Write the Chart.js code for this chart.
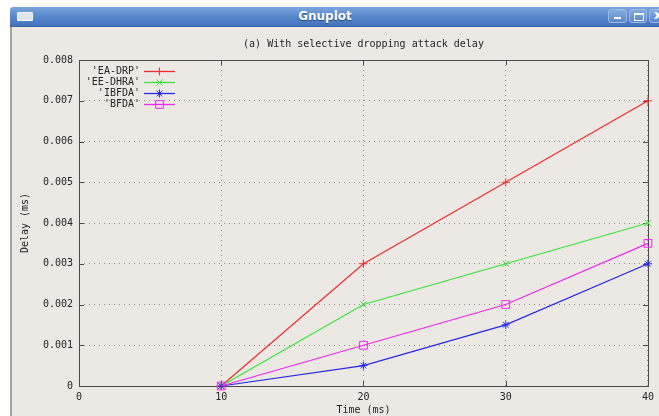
<!DOCTYPE html>
<html>
<head>
<meta charset="utf-8">
<script src="https://cdn.jsdelivr.net/npm/chart.js@4/dist/chart.umd.min.js"></script>
<style>
  html, body { margin: 0; padding: 0; background: #fff; }
  .page { position: relative; width: 659px; height: 416px; overflow: hidden; }
  .win { position: absolute; left: 10px; top: 7px; width: 680px; height: 420px; background: #ECE9E4; border-left: 2px solid #a4a4a0; box-sizing: border-box; border-radius: 4px 0 0 0; }
  .titlebar { position: absolute; left: 10px; top: 7px; width: 680px; height: 19px; border-radius: 4px 0 0 0;
    background: linear-gradient(#7ba5dd, #5585cb 55%, #4574bd); border-bottom: 1px solid #3a64a8; }
  .titlebar .name { position: absolute; left: 0; width: 630px; top: 2px; text-align: center; color: #fff;
    font: bold 12px "DejaVu Sans", sans-serif; text-shadow: 0 1px 1px #27477a; }
  .icon { position: absolute; left: 7px; top: 5px; width: 14px; height: 7px; background: #dde5ef; border: 1px solid #f4f7fb; border-radius: 1px; }
  .btn { position: absolute; top: 2px; height: 14px; border: 1px solid #9ebbe6; border-radius: 3px;
    background: linear-gradient(#86acdf, #5a88cc); box-sizing: border-box; color: #fff; }
  .btn.min { left: 598px; width: 19px; }
  .btn.max { left: 619px; width: 18px; }
  .btn.cls { left: 639px; width: 18px; }
  .btn.min::after { content: ""; position: absolute; left: 5px; bottom: 3px; width: 7px; height: 2px; background: #fff; }
  .btn.max::after { content: ""; position: absolute; left: 4px; top: 3px; width: 8px; height: 5px; border: 1px solid #fff; border-top-width: 2px; }
  .btn.cls::after { content: "x"; position: absolute; left: 4px; top: -2px; font: bold 12px "DejaVu Sans", sans-serif; }
  canvas { position: absolute; left: 0; top: 0; }
</style>
</head>
<body>
<div class="page">
  <div class="win"></div>
  <div class="titlebar">
    <div class="icon"></div>
    <div class="name">Gnuplot</div>
    <div class="btn min"></div>
    <div class="btn max"></div>
    <div class="btn cls"></div>
  </div>
  <canvas id="chart" width="659" height="416" style="width:659px;height:416px"></canvas>
</div>
<script>
// values
const timeMs = [10, 20, 30, 40];
const eaDrp = [0, 0.003, 0.005, 0.007];
const eeDhra = [0, 0.002, 0.003, 0.004];
const ibfda = [0, 0.0005, 0.0015, 0.003];
const bfda = [0, 0.001, 0.002, 0.0035];

const seriesLabels = ["'EA-DRP'", "'EE-DHRA'", "'IBFDA'", "'BFDA'"];
const seriesColors = ["rgb(236,44,44)", "rgb(60,226,60)", "rgb(40,40,230)", "rgb(236,40,236)"];
const seriesMarkers = ["cross", "crossRot", "star", "rect"];
const markerSizes = [4, 4.5, 4, 5.5];

const xRange = [0, 40, 10];
const yRange = [0, 0.008, 0.001];

const chartTitle = "(a) With selective dropping attack delay";
const xTitle = "Time (ms)";
const yTitle = "Delay (ms)";

const MONO = '"DejaVu Sans Mono", monospace';
const INK = "#262626";
const FRAME = "#4a4a4a";

Chart.defaults.font.family = MONO;
Chart.defaults.font.size = 10;
Chart.defaults.color = INK;

const allValues = [eaDrp, eeDhra, ibfda, bfda];

// gnuplot-style key: text right aligned, sample line after it
const keyPlugin = {
  id: "gnuKey",
  afterDraw(chart) {
    const ctx = chart.ctx;
    const textRight = Math.round(chart.chartArea.left) + 61;
    const lineStart = textRight + 4;
    const lineEnd = lineStart + 31;
    const top = Math.round(chart.chartArea.top) + 11;
    ctx.save();
    ctx.font = "10px " + MONO;
    ctx.textAlign = "right";
    ctx.textBaseline = "middle";
    seriesLabels.forEach((label, i) => {
      const y = top + i * 11 + 0.5;
      const col = seriesColors[i];
      ctx.fillStyle = INK;
      ctx.fillText(label, textRight, y);
      ctx.globalAlpha = 1;
      ctx.strokeStyle = col;
      ctx.lineWidth = 1.3;
      ctx.setLineDash([]);
      ctx.beginPath();
      ctx.moveTo(lineStart, y);
      ctx.lineTo(lineEnd, y);
      ctx.stroke();
      if (Chart.helpers && Chart.helpers.drawPoint) {
        ctx.lineWidth = 1;
        ctx.strokeStyle = col;
        ctx.fillStyle = "rgba(0,0,0,0)";
        Chart.helpers.drawPoint(ctx, {
          pointStyle: seriesMarkers[i], radius: markerSizes[i], rotation: 0, borderWidth: 1,
        }, (lineStart + lineEnd) / 2, y);
      }
    });
    ctx.restore();
  },
};

// box round the plot plus inward tick marks on all four sides
const framePlugin = {
  id: "gnuFrame",
  beforeDatasetsDraw(chart) {
    const { ctx, chartArea: a, scales } = chart;
    const len = 5;
    ctx.save();
    ctx.strokeStyle = FRAME;
    ctx.lineWidth = 1;
    ctx.setLineDash([]);
    ctx.beginPath();
    scales.x.ticks.forEach((t) => {
      const px = Math.round(scales.x.getPixelForValue(t.value)) + 0.5;
      ctx.moveTo(px, a.bottom);
      ctx.lineTo(px, a.bottom - len);
      ctx.moveTo(px, a.top);
      ctx.lineTo(px, a.top + len);
    });
    scales.y.ticks.forEach((t) => {
      const py = Math.round(scales.y.getPixelForValue(t.value)) + 0.5;
      ctx.moveTo(a.left, py);
      ctx.lineTo(a.left + len, py);
      ctx.moveTo(a.right, py);
      ctx.lineTo(a.right - len, py);
    });
    ctx.stroke();
    ctx.strokeRect(Math.round(a.left) + 0.5, Math.round(a.top) + 0.5,
      Math.round(a.right - a.left), Math.round(a.bottom - a.top));
    ctx.restore();
  },
};

const datasets = seriesLabels.map((label, i) => ({
  label,
  data: timeMs.map((x, j) => ({ x, y: allValues[i][j] })),
  borderColor: seriesColors[i],
  backgroundColor: "rgba(0,0,0,0)",
  pointBorderColor: seriesColors[i],
  pointBackgroundColor: "rgba(0,0,0,0)",
  pointStyle: seriesMarkers[i],
  pointRadius: markerSizes[i],
  pointBorderWidth: 1,
  borderWidth: 1.2,
  tension: 0,
  clip: false,
  order: seriesLabels.length - i,
}));

new Chart(document.getElementById("chart").getContext("2d"), {
  type: "line",
  data: { datasets },
  plugins: [framePlugin, keyPlugin],
  options: {
    responsive: false,
    animation: false,
    devicePixelRatio: 1,
    layout: { padding: { top: 30, right: 10, bottom: 0, left: 0 } },
    plugins: {
      legend: { display: false },
      tooltip: { enabled: false },
      title: {
        display: true,
        text: chartTitle,
        fullSize: false,
        color: INK,
        font: { family: MONO, size: 10, weight: "normal" },
        padding: { top: 8, bottom: 10 },
      },
    },
    scales: {
      x: {
        type: "linear",
        min: xRange[0],
        max: xRange[1],
        ticks: { stepSize: xRange[2], padding: 5, maxRotation: 0, autoSkip: false, color: INK },
        grid: { color: "#8a8a8a", drawTicks: false },
        border: { display: false, dash: [1, 4] },
        title: { display: true, text: xTitle, color: INK, font: { size: 10 }, padding: { top: 0, bottom: 0 } },
        afterFit: (s) => { s.height = 30; },
      },
      y: {
        type: "linear",
        min: yRange[0],
        max: yRange[1],
        ticks: {
          stepSize: yRange[2],
          padding: 6,
          color: INK,
          callback: (v) => (v === 0 ? "0" : v.toFixed(3)),
        },
        grid: { color: "#8a8a8a", drawTicks: false },
        border: { display: false, dash: [1, 4] },
        title: { display: true, text: yTitle, color: INK, font: { size: 10 }, padding: { top: 19, bottom: 0 } },
        afterFit: (s) => { s.width = 79; },
      },
    },
  },
});
</script>
</body>
</html>
